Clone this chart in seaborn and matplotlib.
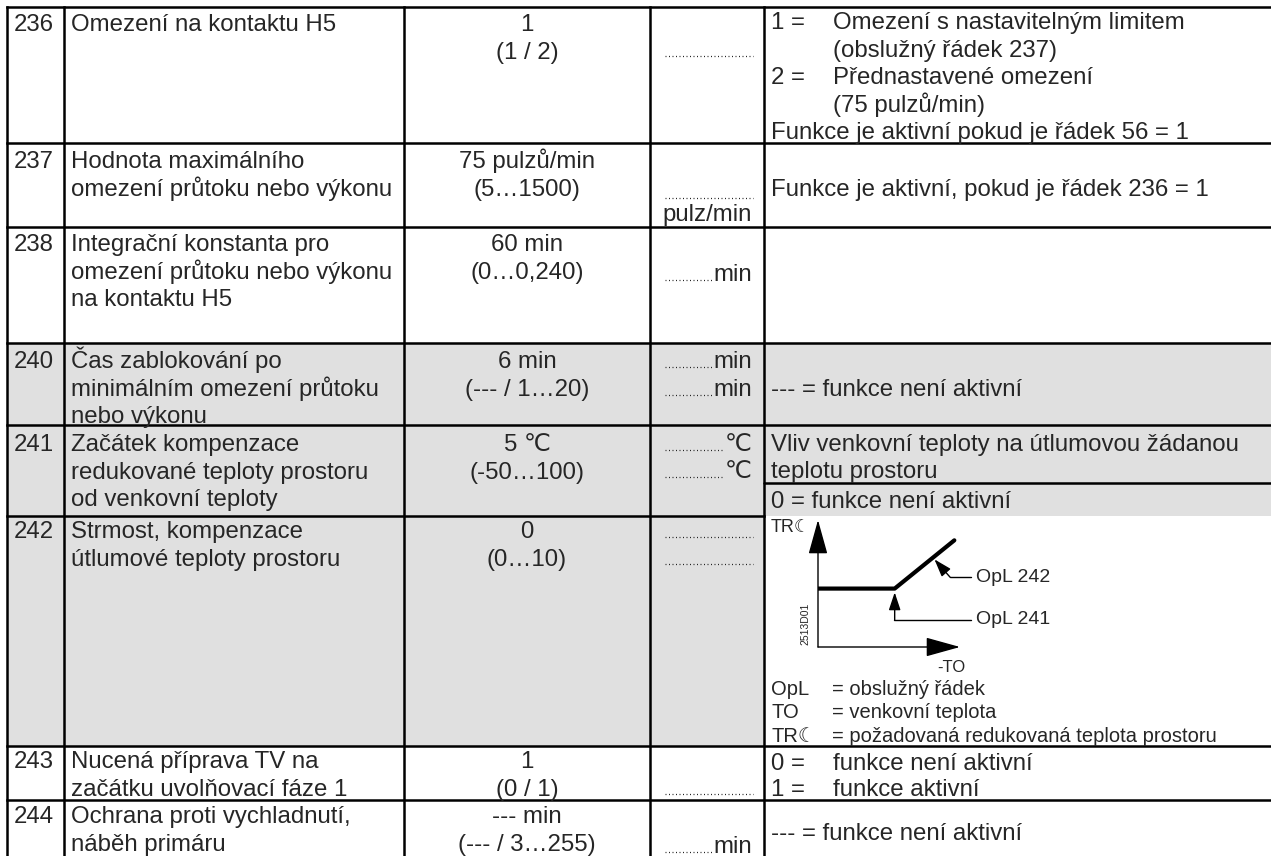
import matplotlib
matplotlib.use("Agg")
import matplotlib.pyplot as plt
from matplotlib.patches import Rectangle
import seaborn as sns

sns.set_theme(style="white")
plt.rcParams["font.family"] = ["Liberation Sans", "DejaVu Sans"]

# ---- table content ----
line_nos = ["236", "237", "238", "240", "241", "242", "243", "244"]
descriptions = [
    ["Omezení na kontaktu H5"],
    ["Hodnota maximálního", "omezení průtoku nebo výkonu"],
    ["Integrační konstanta pro", "omezení průtoku nebo výkonu", "na kontaktu H5"],
    ["Čas zablokování po", "minimálním omezení průtoku", "nebo výkonu"],
    ["Začátek kompenzace", "redukované teploty prostoru", "od venkovní teploty"],
    ["Strmost, kompenzace", "útlumové teploty prostoru"],
    ["Nucená příprava TV na", "začátku uvolňovací fáze 1"],
    ["Ochrana proti vychladnutí,", "náběh primáru"],
]
defaults = [
    ["1", "(1 / 2)"],
    ["75 pulzů/min", "(5…1500)"],
    ["60 min", "(0…0,240)"],
    ["6 min", "(--- / 1…20)"],
    ["5 ℃", "(-50…100)"],
    ["0", "(0…10)"],
    ["1", "(0 / 1)"],
    ["--- min", "(--- / 3…255)"],
]
entry_units = [[], ["pulz/min"], ["min"], ["min", "min"], ["℃", "℃"], [], [], ["min"]]
# notes column: (key, text) -> key at left, text indented
notes = [
    [("1 =", "Omezení s nastavitelným limitem"), ("", "(obslužný řádek 237)"),
     ("2 =", "Přednastavené omezení"), ("", "(75 pulzů/min)"),
     ("Funkce je aktivní pokud je řádek 56 = 1", "")],
    [("Funkce je aktivní, pokud je řádek 236 = 1", "")],
    [],
    [("--- = funkce není aktivní", "")],
    [("Vliv venkovní teploty na útlumovou žádanou", ""), ("teplotu prostoru", ""),
     ("0 = funkce není aktivní", "")],
    [],
    [("0 =", "funkce není aktivní"), ("1 =", "funkce aktivní")],
    [("--- = funkce není aktivní", "")],
]

# diagram for line 242 (reduced room temp vs. -outside temp)
to_vals = [0.0, 0.54, 0.96]
tr_vals = [0.46, 0.46, 0.84]
legend_keys = ["OpL", "TO", "TR☾"]
legend_texts = ["= obslužný řádek", "= venkovní teplota",
                "= požadovaná redukovaná teplota prostoru"]

# ---- layout (pixels) ----
W, H = 1271, 856
col_x = [7, 64, 404, 650, 764]
row_y = [7, 143, 227, 343, 425, 516, 746, 800, 856]
first_base = [31, 168, 251, 368, 451, 538, 768, 823]
pitch = 27.7
dot_base = [[57], [199], [281], [368, 396], [451, 478], [538, 565], [795], [853]]
unit_base = [[], [221], [281], [368, 396], [451, 478], [], [], [853]]
note_base = [[29, 56.5, 84, 111.5, 139], [196], [], [396], [451, 478, 508], [],
             [770, 796], [840]]
shaded = [3, 4, 5]
GRAY = "#e0e0e0"
FS = 17.3
LW = 1.8

fig = plt.figure(figsize=(W / 100, H / 100), dpi=100)
ax = fig.add_axes([0, 0, 1, 1])
ax.set_xlim(0, W)
ax.set_ylim(H, 0)
ax.axis("off")
renderer = fig.canvas.get_renderer()

# shading
for i in shaded:
    right = col_x[4] if i == 5 else W
    ax.add_patch(Rectangle((col_x[0], row_y[i]), right - col_x[0],
                           row_y[i + 1] - row_y[i], color=GRAY, lw=0, zorder=0))

# grid lines
for x in col_x:
    ax.plot([x, x], [row_y[0], H], color="black", lw=LW, solid_capstyle="projecting")
for y in row_y[:-1]:
    right = col_x[4] if y == 516 else W
    ax.plot([col_x[0], right], [y, y], color="black", lw=LW, solid_capstyle="projecting")
ax.plot([col_x[4], W], [483, 483], color="black", lw=LW)

for i in range(len(line_nos)):
    ax.text(14, first_base[i], line_nos[i], fontsize=FS, va="baseline")
    for k, s in enumerate(descriptions[i]):
        ax.text(71, first_base[i] + k * pitch, s, fontsize=FS, va="baseline")
    for k, s in enumerate(defaults[i]):
        ax.text(527, first_base[i] + k * pitch, s, fontsize=FS, va="baseline", ha="center")
    # entry column: dots + unit
    unit_x0 = {}
    for u, yb in zip(entry_units[i], unit_base[i]):
        t = ax.text(752, yb, u, fontsize=FS, va="baseline", ha="right")
        unit_x0[yb] = t.get_window_extent(renderer).x0
    for yb in dot_base[i]:
        x_end = unit_x0.get(yb, 754) - 1
        ax.plot([665, x_end], [yb - 1.5, yb - 1.5], color="#222222", lw=0.9,
                linestyle=(0, (0.8, 2.0)))
    for (key, txt), yb in zip(notes[i], note_base[i]):
        ax.text(771, yb, key, fontsize=FS, va="baseline")
        if txt:
            ax.text(833, yb, txt, fontsize=FS, va="baseline")

# ---- diagram ----
dx0, dx1, dy0, dy1 = 818, 960, 647, 520
ax_in = fig.add_axes([dx0 / W, 1 - dy0 / H, (dx1 - dx0) / W, (dy0 - dy1) / H])
ax_in.set_xlim(0, 1)
ax_in.set_ylim(0, 1)
ax_in.axis("off")
ax_in.patch.set_alpha(0)
sns.lineplot(x=to_vals, y=tr_vals, ax=ax_in, color="black", lw=3, sort=False)
big = dict(arrowstyle="-|>,head_length=1.8,head_width=0.5", color="black", lw=1,
           shrinkA=0, shrinkB=0)
ax_in.annotate("", xy=(0, 1.0), xytext=(0, 0), arrowprops=big, annotation_clip=False)
ax_in.annotate("", xy=(1.0, 0), xytext=(0, 0), arrowprops=big, annotation_clip=False)

small = dict(arrowstyle="-|>,head_length=0.9,head_width=0.3", color="black", lw=1,
             shrinkA=0, shrinkB=0)
# OpL 241 pointer: knee point
ax_in.annotate("", xy=(to_vals[1], tr_vals[1] - 0.03), xytext=(to_vals[1], 0.21),
               arrowprops=small, annotation_clip=False)
ax.plot([894, 971], [620, 620], color="black", lw=1)
ax.text(976, 620, "OpL 241", fontsize=14, va="center")
# OpL 242 pointer: slope
ax_in.annotate("", xy=(0.82, 0.69), xytext=(0.93, 0.55), arrowprops=small,
               annotation_clip=False)
ax.plot([950, 971], [577, 577], color="black", lw=1)
ax.text(976, 577, "OpL 242", fontsize=14, va="center")

ax.text(771, 527, "TR☾", fontsize=13, va="center")
ax.text(805, 624, "2513D01", fontsize=7.5, va="center", ha="center", rotation=90)
ax.text(951, 668, "-TO", fontsize=12, va="center", ha="center")

for k, (key, txt) in enumerate(zip(legend_keys, legend_texts)):
    yb = 695 + k * 23.5
    ax.text(771, yb, key, fontsize=14.5, va="baseline")
    ax.text(832, yb, txt, fontsize=14.5, va="baseline")

fig.savefig("out.png", dpi=100)
